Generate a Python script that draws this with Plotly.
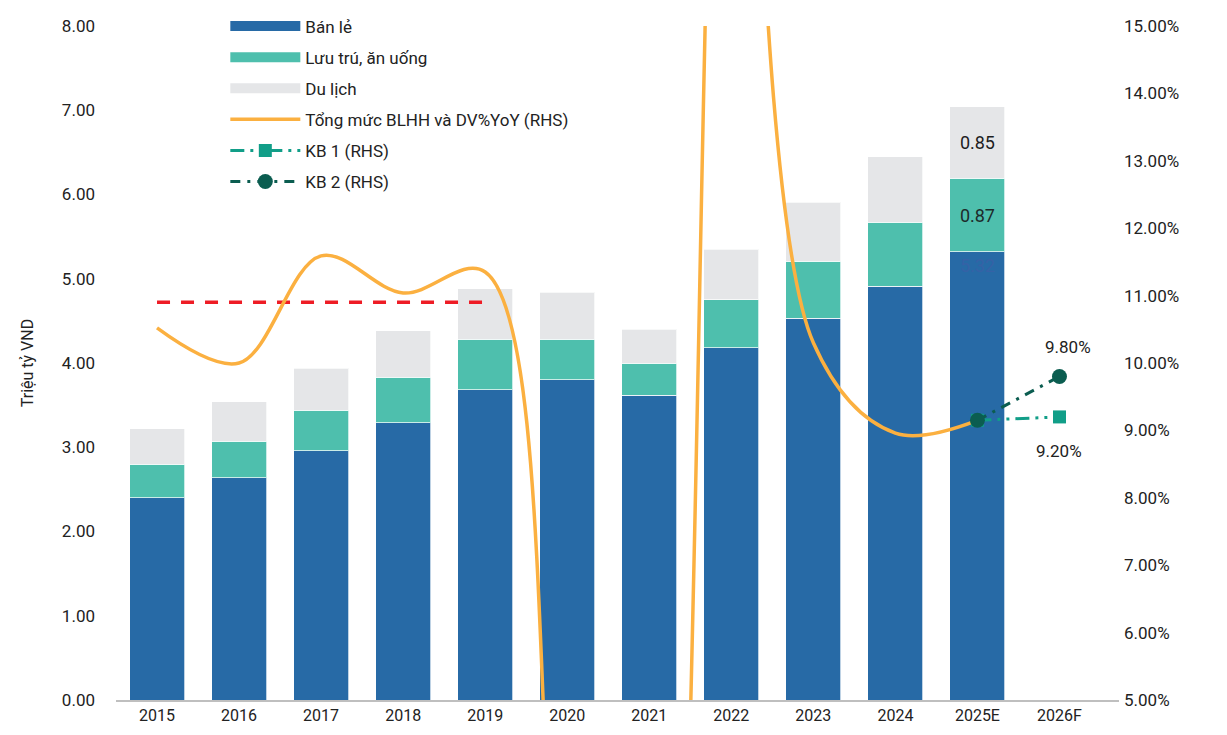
import plotly.graph_objects as go

# categories
years = ["2015", "2016", "2017", "2018", "2019", "2020", "2021",
         "2022", "2023", "2024", "2025E", "2026F"]

# stacked bars, trillion VND
ban_le = [2.40, 2.64, 2.96, 3.29, 3.68, 3.80, 3.62, 4.18, 4.53, 4.91, 5.32, None]
luu_tru = [0.40, 0.43, 0.48, 0.54, 0.60, 0.48, 0.38, 0.57, 0.68, 0.76, 0.87, None]
du_lich = [0.42, 0.47, 0.50, 0.55, 0.60, 0.56, 0.40, 0.60, 0.70, 0.78, 0.85, None]

# right-hand side, % YoY (2020-2022 run off the axis, estimated)
yoy = [10.52, 10.0, 11.59, 11.04, 11.35, 0.0, -5.0, 23.0, 10.3, 8.96, 9.15]
avg_years = ["2015", "2016", "2017", "2018", "2019"]
avg_yoy = [10.9] * 5
kb_years = ["2025E", "2026F"]
kb1 = [9.15, 9.20]
kb2 = [9.15, 9.80]

BLUE = "#276aa6"
TEAL = "#4ebfad"
GREY = "#e5e6e8"
ORANGE = "#fbb040"
KB1_C = "#119e88"
KB2_C = "#0b5d50"
FONT = "Roboto"


def last_label(vals):
    return [""] * (len(vals) - 2) + [f"{vals[-2]:.2f}", ""]


fig = go.Figure()

bar_line = dict(color="rgba(255,255,255,0.7)", width=1)
fig.add_trace(go.Bar(x=years, y=ban_le, marker_color=BLUE, marker_line=bar_line,
                     text=last_label(ban_le), textposition="inside", insidetextanchor="end",
                     textfont=dict(color="#3562a6", size=18), showlegend=False))
fig.add_trace(go.Bar(x=years, y=luu_tru, marker_color=TEAL, marker_line=bar_line,
                     text=last_label(luu_tru), textposition="inside", insidetextanchor="middle",
                     textfont=dict(color="#1d2b2b", size=18), showlegend=False))
fig.add_trace(go.Bar(x=years, y=du_lich, marker_color=GREY, marker_line=bar_line,
                     text=last_label(du_lich), textposition="inside", insidetextanchor="middle",
                     textfont=dict(color="#1d1d1d", size=18), showlegend=False))

# legend entries for the bars (wide swatches like the original)
for name, col, grp in [("Bán lẻ", BLUE, "a"), ("Lưu trú, ăn uống", TEAL, "b"), ("Du lịch", GREY, "c")]:
    fig.add_trace(go.Scatter(x=[None], y=[None], mode="lines", name=name, legendgroup=grp,
                             line=dict(color=col, width=11), yaxis="y2"))

fig.add_trace(go.Scatter(x=avg_years, y=avg_yoy, mode="lines", yaxis="y2", showlegend=False,
                         line=dict(color="#ee1c25", width=3.5, dash="13px,11px")))

fig.add_trace(go.Scatter(x=years[:len(yoy)], y=yoy, mode="lines", yaxis="y2",
                         name="Tổng mức BLHH và DV%YoY (RHS)", legendgroup="d",
                         line=dict(color=ORANGE, width=3.5, shape="spline", smoothing=1.0)))

fig.add_trace(go.Scatter(x=kb_years, y=kb1, mode="lines+markers", yaxis="y2",
                         name="KB 1 (RHS)", legendgroup="e",
                         line=dict(color=KB1_C, width=3, dash="14px,6px,3px,6px,3px,6px"),
                         marker=dict(symbol="square", size=13, color=KB1_C)))
fig.add_trace(go.Scatter(x=kb_years, y=kb2, mode="lines+markers", yaxis="y2",
                         name="KB 2 (RHS)", legendgroup="f",
                         line=dict(color=KB2_C, width=3, dash="10px,7px,3px,7px"),
                         marker=dict(symbol="circle", size=15, color=KB2_C)))

fig.add_annotation(x=kb_years[-1], y=kb2[-1], yref="y2", text=f"{kb2[-1]:.2f}%",
                   showarrow=False, yshift=29, xshift=9, font=dict(size=17, color="#222"))
fig.add_annotation(x=kb_years[-1], y=kb1[-1], yref="y2", text=f"{kb1[-1]:.2f}%",
                   showarrow=False, yshift=-34, font=dict(size=17, color="#222"))

fig.update_layout(
    width=1219,
    height=727,
    barmode="stack",
    bargap=0.33,
    plot_bgcolor="white",
    paper_bgcolor="white",
    font=dict(family=FONT, size=17, color="#222"),
    margin=dict(l=108, r=108, t=18, b=35, autoexpand=False),
    legend=dict(x=0.109, y=1.026, xanchor="left", yanchor="top", bgcolor="rgba(0,0,0,0)",
                font=dict(size=17), itemwidth=70, tracegroupgap=6, traceorder="grouped"),
    xaxis=dict(showline=True, linecolor="#bfbfbf", linewidth=2, ticks="",
               tickfont=dict(size=16), showgrid=False),
    yaxis=dict(range=[0, 8], dtick=1, tickformat=".2f", showgrid=False, zeroline=False,
               title=dict(text="Triệu tỷ VND", font=dict(size=16), standoff=24),
               ticklabelstandoff=20),
    yaxis2=dict(range=[5, 15], dtick=1, tickformat=".2f", ticksuffix="%", overlaying="y",
                side="right", showgrid=False, zeroline=False, ticklabelstandoff=4),
    showlegend=True,
)

fig.write_html("out.html")
